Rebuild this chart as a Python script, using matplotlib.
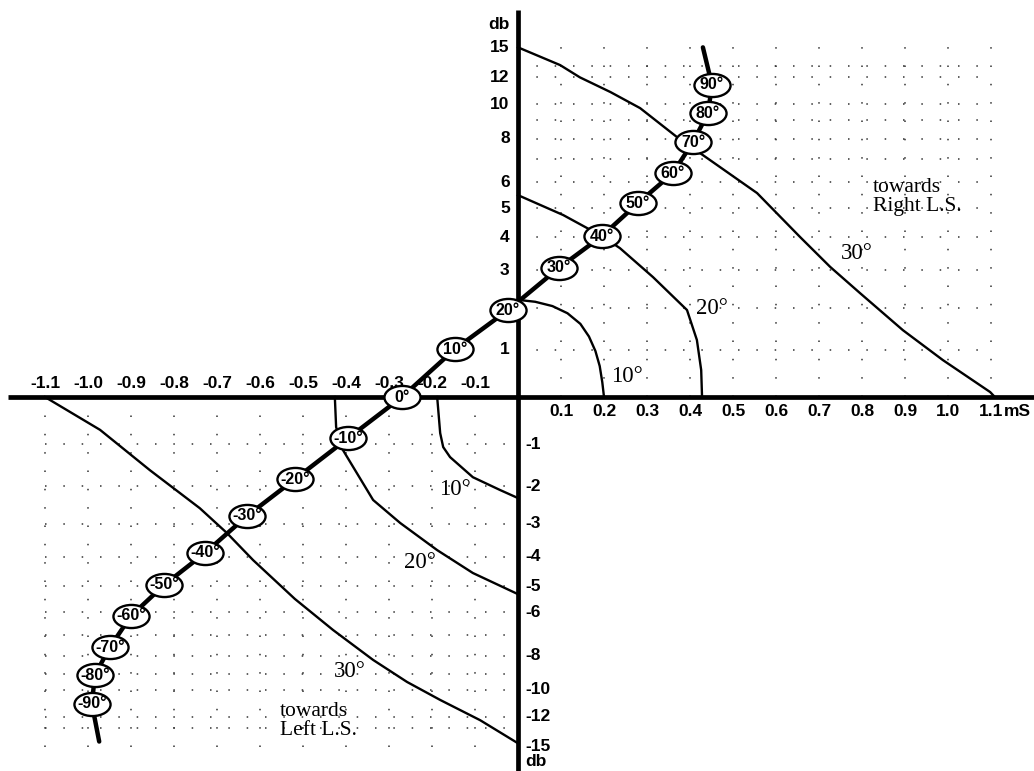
import numpy as np
import matplotlib
matplotlib.use("Agg")
import matplotlib.pyplot as plt
from matplotlib.path import Path
from matplotlib.transforms import Affine2D

# image position track of the microphone pair (angle -> time diff ms, level diff db)
track_deg = [-90, -80, -70, -60, -50, -40, -30, -20, -10, 0, 10, 20, 30, 40, 50, 60, 70, 80, 90]
track_ms = [-0.991, -0.984, -0.949, -0.900, -0.823, -0.728, -0.630, -0.519, -0.395, -0.270,
            -0.147, -0.023, 0.095, 0.195, 0.279, 0.360, 0.407, 0.442, 0.451]
track_db = [-10.99, -9.08, -7.57, -6.16, -4.96, -3.88, -2.78, -1.82, -0.86, 0.0,
            1.01, 1.94, 3.07, 4.04, 5.18, 6.37, 7.82, 9.44, 11.4]
track_end_ms = [-0.974, 0.430]
track_end_db = [-14.4, 15.0]

# iso-angle curves, towards right loudspeaker
r10_ms = [0.0, 0.04, 0.08, 0.115, 0.145, 0.165, 0.18, 0.19, 0.196, 0.2]
r10_db = [2.2, 2.15, 2.04, 1.86, 1.6, 1.3, 0.97, 0.64, 0.3, 0.0]
r20_ms = [0.0, 0.105, 0.195, 0.237, 0.314, 0.393, 0.416, 0.426, 0.428]
r20_db = [5.48, 4.75, 4.04, 3.66, 2.81, 1.94, 1.22, 0.555, 0.0]
r30_ms = [0.0, 0.098, 0.144, 0.215, 0.284, 0.37, 0.44, 0.556, 0.656, 0.726, 0.795, 0.895, 0.988, 1.098, 1.109]
r30_db = [15.0, 13.1, 12.0, 10.85, 9.75, 8.07, 7.04, 5.56, 4.01, 3.10, 2.38, 1.45, 0.77, 0.1, 0.0]

# iso-angle curves, towards left loudspeaker
l10_ms = [-0.188, -0.181, -0.174, -0.158, -0.105, -0.042, 0.0]
l10_db = [0.0, -0.75, -1.06, -1.29, -1.77, -2.09, -2.30]
l20_ms = [-0.426, -0.423, -0.407, -0.337, -0.274, -0.188, -0.105, 0.0]
l20_db = [0.0, -0.62, -1.13, -2.35, -2.98, -3.79, -4.54, -5.3]
l30_ms = [-1.1, -0.972, -0.856, -0.74, -0.677, -0.616, -0.519, -0.43, -0.337, -0.258, -0.181, -0.088, 0.0]
l30_db = [0.0, -0.68, -1.60, -2.57, -3.27, -4.11, -5.48, -6.77, -8.23, -9.5, -10.7, -12.3, -14.6]

curve_labels = ["10°", "20°", "30°", "10°", "20°", "30°"]
curve_label_ms = [0.253, 0.451, 0.788, -0.147, -0.228, -0.391]
curve_label_db = [0.41, 1.99, 3.5, -2.09, -4.2, -8.9]

# axis ticks ("2" sits under the 20° marker and is not shown)
ms_ticks_neg = [-1.1, -1.0, -0.9, -0.8, -0.7, -0.6, -0.5, -0.4, -0.3, -0.2, -0.1]
ms_ticks_pos = [0.1, 0.2, 0.3, 0.4, 0.5, 0.6, 0.7, 0.8, 0.9, 1.0, 1.1]
db_ticks_pos = [1, 3, 4, 5, 6, 8, 10, 12, 15]
db_ticks_neg = [-1, -2, -3, -4, -5, -6, -8, -10, -12, -15]
db_grid = [1, 2, 3, 4, 5, 6, 7, 8, 9, 10, 12, 13]

K = 0.12  # compression of the db axis


def fwd(d):
    d = np.asarray(d, dtype=float)
    return np.sign(d) * (1.0 - np.exp(-K * np.abs(d)))


def inv(u):
    u = np.asarray(u, dtype=float)
    return -np.sign(u) * np.log(1.0 - np.clip(np.abs(u), 0, 0.99999)) / K


fig = plt.figure(figsize=(10.34, 7.71), dpi=100)
ax = fig.add_axes([0, 0, 1, 1])
ax.set_yscale("function", functions=(fwd, inv))
ax.set_xlim(-1.2047, 1.2)
ax.set_ylim(-18.6, 24.6)
ax.axis("off")

serif = "Liberation Serif"
sans = "Liberation Sans"

# dotted grid, only in the two used quadrants
dots = (0, (1, 11))
gcol = "#333333"
ax.vlines(ms_ticks_pos, 0, 15, colors=gcol, linestyles=dots, lw=1.1, zorder=1)
ax.hlines(db_grid, 0, 1.1, colors=gcol, linestyles=dots, lw=1.1, zorder=1)
ax.vlines(ms_ticks_neg, -15, 0, colors=gcol, linestyles=dots, lw=1.1, zorder=1)
ax.hlines([-g for g in db_grid], -1.1, 0, colors=gcol, linestyles=dots, lw=1.1, zorder=1)

# axes cross
ax.plot([-1.186, 1.2], [0, 0], color="black", lw=3.4, solid_capstyle="butt", zorder=3)
ax.plot([0, 0], [21.4, -18.6], color="black", lw=3.4, solid_capstyle="butt", zorder=3)

# iso-angle curves
for xs, ys in [(r10_ms, r10_db), (r20_ms, r20_db), (r30_ms, r30_db),
               (l10_ms, l10_db), (l20_ms, l20_db), (l30_ms, l30_db)]:
    ax.plot(xs, ys, color="black", lw=1.7, zorder=2)

for t, x, y in zip(curve_labels, curve_label_ms, curve_label_db):
    ax.text(x, y, t, family=serif, fontsize=16.5, ha="center", va="center", zorder=4)

ax.text(0.826, 5.41, "towards\nRight L.S.", family=serif, fontsize=15.5,
        ha="left", va="center", linespacing=1.0, zorder=4)
ax.text(-0.553, -12.4, "towards\nLeft L.S.", family=serif, fontsize=15.5,
        ha="left", va="center", linespacing=1.0, zorder=4)

# tick labels
tick_kw = dict(textcoords="offset points", family=sans, fontweight="bold", fontsize=12.5, zorder=4)
for v in ms_ticks_neg:
    ax.annotate(f"{v:.1f}", (v, 0), xytext=(0, 4), ha="center", va="bottom", **tick_kw)
for v in ms_ticks_pos:
    ax.annotate(f"{v:.1f}", (v, 0), xytext=(0, -5), ha="center", va="top", **tick_kw)
ax.annotate("mS", (1.13, 0), xytext=(0, -5), ha="left", va="top", **tick_kw)

for v in db_ticks_pos:
    ax.annotate(str(v), (0, v), xytext=(-6, 0), ha="right", va="center", **tick_kw)
for v in db_ticks_neg:
    ax.annotate(str(v), (0, v), xytext=(5, 0), ha="left", va="center", **tick_kw)
ax.annotate("db", (0, 18.4), xytext=(-6, 0), ha="right", va="center", **tick_kw)
ax.annotate("db", (0, -17.07), xytext=(5, 0), ha="left", va="center", **tick_kw)

# the track with its angle markers
line_ms = [track_end_ms[0]] + track_ms + [track_end_ms[1]]
line_db = [track_end_db[0]] + track_db + [track_end_db[1]]
ax.plot(line_ms, line_db, color="black", lw=3.2, solid_capstyle="round", zorder=5)

oval = Path.unit_circle().transformed(Affine2D().scale(1.0, 0.64))
ax.plot(track_ms, track_db, ls="none", marker=oval, ms=26, mfc="white", mec="black",
        mew=1.7, zorder=6)
for a, x, y in zip(track_deg, track_ms, track_db):
    ax.text(x, y, f"{a}°", family=sans, fontweight="bold", fontsize=11.5,
            ha="center", va="center", zorder=7)

fig.savefig("out.png", dpi=100)
